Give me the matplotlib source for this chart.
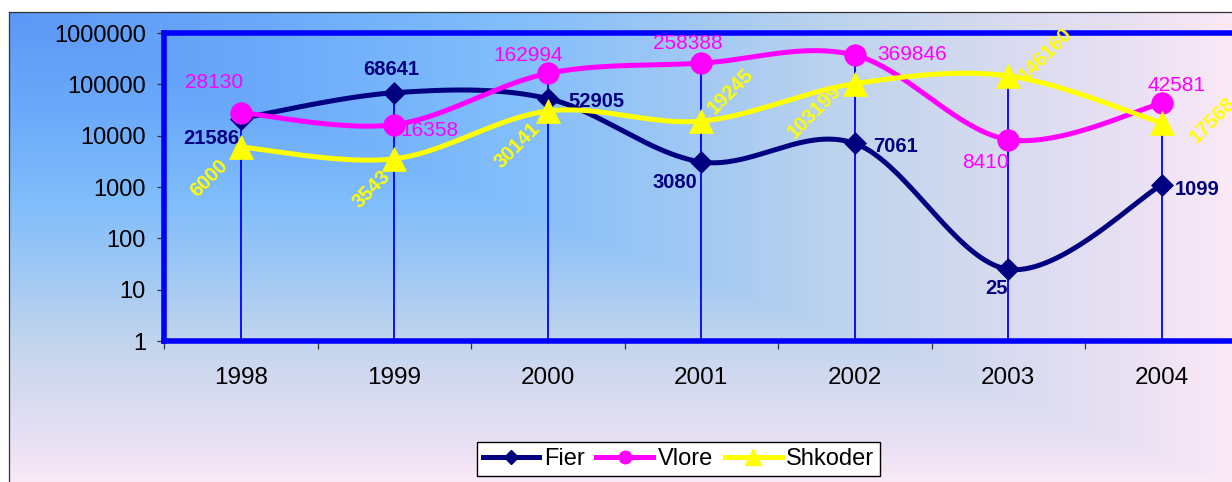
import numpy as np
import matplotlib
matplotlib.use("Agg")
import matplotlib.pyplot as plt
from matplotlib.colors import LinearSegmentedColormap
from matplotlib.lines import Line2D
from matplotlib.ticker import FixedLocator, FixedFormatter, NullLocator

plt.rcParams["font.family"] = ["Liberation Sans", "DejaVu Sans"]

# ---- data -------------------------------------------------------------
years = ["1998", "1999", "2000", "2001", "2002", "2003", "2004"]
fier = [21586, 68641, 52905, 3080, 7061, 25, 1099]
vlore = [28130, 16358, 162994, 258388, 369846, 8410, 42581]
shkoder = [6000, 3543, 30141, 19245, 103199, 146160, 17568]
series_names = ["Fier", "Vlore", "Shkoder"]
y_ticks = [1, 10, 100, 1000, 10000, 100000, 1000000]

# ---- styles -----------------------------------------------------------
NAVY, MAGENTA, YELLOW, BLUE = "#000080", "#FF00FF", "#FFFF00", "#0000FF"

W, H, DPI = 1232, 482, 100
fig = plt.figure(figsize=(W / DPI, H / DPI), dpi=DPI)
fig.patch.set_facecolor("white")

# chart area: gradient radiating from the top-left corner
bg = fig.add_axes([0, 0, 1, 1])
bg.axis("off")
cx0, cy0, cw, ch = 9, 12, 1226, 472
gx = np.linspace(0, 1, cw)
gy = np.linspace(0, 1, ch)
T = np.maximum(gx[None, :], gy[:, None])
cmap = LinearSegmentedColormap.from_list("corner", [
    (0.00, "#5c98f6"), (0.20, "#6aa9fa"), (0.40, "#80bdfc"),
    (0.55, "#9fc8f4"), (0.70, "#c2d5ed"), (0.82, "#d9dbf0"),
    (0.92, "#eae1f4"), (1.00, "#fbe9f7")])
bg.imshow(T, cmap=cmap, extent=(cx0, cx0 + cw, cy0 + ch, cy0),
          aspect="auto", interpolation="nearest")
bg.plot([cx0, cx0], [cy0, H + 5], color="#333333", lw=0.9)
bg.plot([cx0, W + 5], [cy0, cy0], color="#333333", lw=0.9)
bg.set_xlim(0, W)
bg.set_ylim(H, 0)

# plot area
ax = fig.add_axes([164 / W, 1 - 341 / H, (1238.5 - 164) / W, (341 - 33) / H])
ax.patch.set_alpha(0)
ax.set_yscale("log")
ax.set_ylim(1, 1e6)
ax.set_xlim(-0.5, 6.5)

x = np.arange(len(years))


def smooth(vals, n=40):
    """Bezier smoothing through the points in (x, log10 y) space."""
    pts = np.column_stack([np.arange(len(vals)), np.log10(vals)])
    parts = []
    for i in range(len(pts) - 1):
        p0 = pts[i - 1] if i > 0 else pts[i]
        p1, p2 = pts[i], pts[i + 1]
        p3 = pts[i + 2] if i + 2 < len(pts) else pts[i + 1]
        c1 = p1 + (p2 - p0) / 6.0
        c2 = p2 - (p3 - p1) / 6.0
        t = np.linspace(0, 1, n)[:, None]
        seg = ((1 - t) ** 3 * p1 + 3 * (1 - t) ** 2 * t * c1
               + 3 * (1 - t) * t ** 2 * c2 + t ** 3 * p2)
        parts.append(seg if i == 0 else seg[1:])
    arr = np.vstack(parts)
    return arr[:, 0], 10 ** arr[:, 1]


# drop lines from the highest value of each year to the axis
tops = np.max([fier, vlore, shkoder], axis=0)
ax.vlines(x, 1, tops, color=BLUE, lw=1.3, zorder=2)

styles = [
    (fier, NAVY, "D", 11.0),
    (vlore, MAGENTA, "o", 15.5),
    (shkoder, YELLOW, "^", 17.0),
]
for k, (vals, col, mk, ms) in enumerate(styles):
    sx, sy = smooth(vals)
    ax.plot(sx, sy, color=col, lw=3.6, solid_capstyle="round", zorder=3 + k)
    ax.plot(x, vals, ls="none", marker=mk, ms=ms, color=col,
            mec=col, mew=0.5, zorder=3.5 + k)

# data labels (offsets in pixels: right, down)
fier_off = [(-29, 20), (-3, -23), (49, 3), (-26, 21), (41, 3), (-12, 19), (35, 5)]
vlore_off = [(-27, -30), (35, 6), (-20, -18), (-13, -20), (57, -1), (-23, 23), (15, -18)]
shk_off = [(-32, 31), (-23, 30), (-30, 34), (29, -30), (-40, 28), (37, -21), (51, -3)]

PX = 72.0 / DPI
for i in range(len(years)):
    ax.annotate(str(fier[i]), (x[i], fier[i]),
                xytext=(fier_off[i][0] * PX, -fier_off[i][1] * PX),
                textcoords="offset points", ha="center", va="center",
                fontsize=14.5, fontweight="bold", color=NAVY, zorder=10)
    ax.annotate(str(vlore[i]), (x[i], vlore[i]),
                xytext=(vlore_off[i][0] * PX, -vlore_off[i][1] * PX),
                textcoords="offset points", ha="center", va="center",
                fontsize=15, color=MAGENTA, zorder=10)
    ax.annotate(str(shkoder[i]), (x[i], shkoder[i]),
                xytext=(shk_off[i][0] * PX, -shk_off[i][1] * PX),
                textcoords="offset points", ha="center", va="center",
                rotation=45, rotation_mode="anchor",
                fontsize=14.5, fontweight="bold", color=YELLOW, zorder=10,
                annotation_clip=False)

# spines
for side in ("left", "top", "bottom"):
    ax.spines[side].set_color(BLUE)
    ax.spines[side].set_linewidth(4)
ax.spines["right"].set_visible(False)
ax.axhline(1, color="#00007a", lw=1.0, zorder=2.5)
ax.axvline(-0.5, color="#00007a", lw=1.0, zorder=2.5)

# y axis
ax.yaxis.set_major_locator(FixedLocator(y_ticks))
ax.yaxis.set_major_formatter(FixedFormatter([str(v) for v in y_ticks]))
ax.yaxis.set_minor_locator(NullLocator())
ax.tick_params(axis="y", which="major", direction="out", length=5, width=0.9,
               color="#333333", labelsize=17, pad=8, labelcolor="black")

# x axis: labels at categories, tick marks between them
ax.xaxis.set_major_locator(FixedLocator(x))
ax.xaxis.set_major_formatter(FixedFormatter(years))
ax.xaxis.set_minor_locator(FixedLocator(np.arange(-0.5, 7.0, 1.0)))
ax.tick_params(axis="x", which="major", length=0, labelsize=17.5, pad=19,
               labelcolor="black")
ax.tick_params(axis="x", which="minor", direction="out", length=6, width=0.9,
               color="#333333")

# legend
handles = [
    Line2D([], [], color=NAVY, lw=3.6, marker="D", ms=7.5, mec=NAVY),
    Line2D([], [], color=MAGENTA, lw=3.6, marker="o", ms=9, mec=MAGENTA),
    Line2D([], [], color=YELLOW, lw=3.6, marker="^", ms=12, mec=YELLOW),
]
leg = fig.legend(handles, series_names, loc="center",
                 bbox_to_anchor=(678.5 / W, 1 - 459 / H), ncol=3,
                 fontsize=17, frameon=True, fancybox=False, framealpha=1,
                 edgecolor="black", facecolor="white", handlelength=2.4,
                 handletextpad=0.2, columnspacing=0.5, borderpad=0.25,
                 borderaxespad=0)
leg.get_frame().set_linewidth(1.0)

fig.savefig("out.png", dpi=DPI)
